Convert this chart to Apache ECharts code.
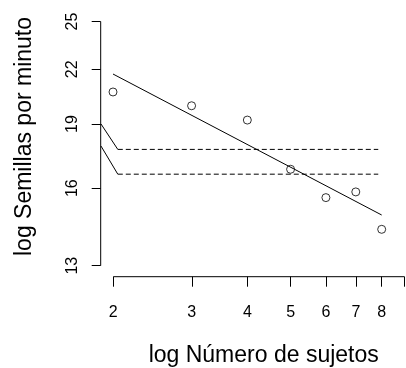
<!DOCTYPE html>
<html>
<head>
<meta charset="utf-8">
<script src="https://cdn.jsdelivr.net/npm/echarts@6/dist/echarts.min.js"></script>
<style>
  html, body { margin: 0; padding: 0; background: #fff; }
  #echartDiv { width: 406px; height: 368px; }
</style>
</head>
<body>
<div id="echartDiv"></div>
<script>
// datos
const sujetos = [2, 3, 4, 5, 6, 7, 8];
const semillas = [20.7, 19.95, 19.2, 16.83, 15.6, 15.84, 14.33];
// recta ajustada
const rectaX = [2, 8];
const rectaY = [21.72, 14.89];
// lineas de referencia (tramo solido + tramo discontinuo)
const solidoX = [1.88, 2.05];
const solidoAltoY = [19.0, 17.75];
const solidoBajoY = [17.91, 16.61];
const guionX = [2.05, 7.86];
const guionAltoY = [17.75, 17.75];
const guionBajoY = [16.61, 16.61];
// ticks
const xTicks = [2, 3, 4, 5, 6, 7, 8, 9];
const xLabels = [2, 3, 4, 5, 6, 7, 8];
const yTicks = [13, 16, 19, 22, 25];

const zip = (a, b) => a.map((v, i) => [v, b[i]]);
const negro = '#000';
const fuente = 'Liberation Sans, Arial, sans-serif';
const X_MIN_DATOS = 1.877;

function linea(x, y, tipo, xi, yi) {
  return {
    type: 'line',
    xAxisIndex: xi || 0,
    yAxisIndex: yi || 0,
    data: zip(x, y),
    symbol: 'none',
    silent: true,
    clip: false,
    lineStyle: { color: negro, width: 1, type: tipo },
  };
}

let myChart = echarts.init(document.getElementById('echartDiv'));
let option = {
  backgroundColor: '#fff',
  animation: false,
  // grid 0: region del grafico con el eje y
  // grid 1: eje x, empieza en el tick 2 y queda debajo del eje y
  grid: [
    { left: 100.7, right: 1.5, top: 21.5, bottom: 102.3 },
    { left: 113.3, right: 1.5, top: 21.5, bottom: 91.3 },
  ],
  xAxis: [
    { gridIndex: 0, type: 'log', min: X_MIN_DATOS, max: 9, show: false },
    {
      gridIndex: 1,
      type: 'log',
      min: 2,
      max: 9,
      splitLine: { show: false },
      minorTick: { show: false },
      axisLine: { show: false },
      axisTick: { show: true, length: 10, customValues: xTicks, lineStyle: { color: negro } },
      axisLabel: { customValues: xLabels, margin: 28, color: negro, fontSize: 16, fontFamily: fuente },
    },
  ],
  yAxis: [
    {
      gridIndex: 0,
      type: 'log',
      min: 13,
      max: 25,
      splitLine: { show: false },
      minorTick: { show: false },
      axisLine: { show: false },
      axisTick: { show: true, length: 9, customValues: yTicks, lineStyle: { color: negro } },
      axisLabel: { customValues: yTicks, rotate: 90, margin: 20, color: negro, fontSize: 16, fontFamily: fuente },
    },
    { gridIndex: 1, type: 'value', min: 0, max: 1, show: false },
  ],
  graphic: [
    {
      type: 'text',
      x: 25, y: 136.5,
      rotation: Math.PI / 2,
      style: { text: 'log Semillas por minuto', fill: negro, font: '23px ' + fuente, align: 'center', verticalAlign: 'middle' },
    },
    {
      type: 'text',
      x: 263.7, y: 356,
      style: { text: 'log Número de sujetos', fill: negro, font: '23px ' + fuente, align: 'center', verticalAlign: 'middle' },
    },
  ],
  series: [
    // lineas de los ejes (del primer al ultimo tick)
    linea([X_MIN_DATOS, X_MIN_DATOS], [yTicks[0], yTicks[yTicks.length - 1]], 'solid', 0, 0),
    linea([xTicks[0], xTicks[xTicks.length - 1]], [0, 0], 'solid', 1, 1),
    // datos
    linea(rectaX, rectaY, 'solid'),
    linea(solidoX, solidoAltoY, 'solid'),
    linea(solidoX, solidoBajoY, 'solid'),
    linea(guionX, guionAltoY, [5, 3]),
    linea(guionX, guionBajoY, [5, 3]),
    {
      type: 'scatter',
      data: zip(sujetos, semillas),
      symbol: 'circle',
      symbolSize: 8,
      clip: false,
      itemStyle: { color: 'rgba(0,0,0,0)', borderColor: negro, borderWidth: 1 },
    },
  ],
};
myChart.setOption(option);
</script>
</body>
</html>
